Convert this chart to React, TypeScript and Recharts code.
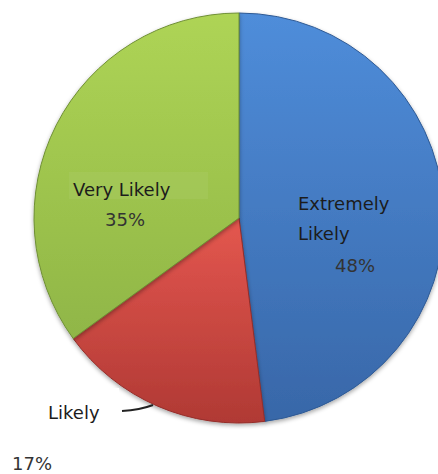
import { PieChart, Pie, Cell } from 'recharts';

const categories = ['Extremely Likely', 'Likely', 'Very Likely'];
const shares = [48, 17, 35];
const labelLines = [['Extremely', 'Likely'], ['Likely'], ['Very Likely']];

// top / bottom shades for each slice (bevelled Office look)
const sliceColors = [
  { top: '#4f8dda', bottom: '#3867a8', edge: '#2f5a94' },
  { top: '#e4574f', bottom: '#b03934', edge: '#942e2a' },
  { top: '#aed455', bottom: '#90b647', edge: '#6f8f35' },
];

// label offsets from pie centre, per slice
const labelLayout = [
  { dx: 59, dy: -8, pctDx: 96, pctDy: 54 },
  { dx: -191, dy: 201, pctDx: -227, pctDy: 252 },
  { dx: -166, dy: -22, pctDx: -134, pctDy: 8 },
];

const chartData = categories.map((name, i) => ({ name, value: shares[i] }));

const fontFamily = '"DejaVu Sans", Verdana, sans-serif';

function renderLabel(props: any) {
  const { cx, cy, index, value } = props;
  const l = labelLayout[index];
  const lines = labelLines[index];
  const x = cx + l.dx;
  const y = cy + l.dy;
  return (
    <g key={`lbl-${index}`}>
      {index === 1 && (
        <>
          <rect x={x - 10} y={y - 31} width={81} height={44} fill="#fff" />
          <path d={`M ${x + 74} ${y - 8} Q ${x + 92} ${y - 9} ${x + 105} ${y - 14}`} stroke="#222" strokeWidth={2} fill="none" />
        </>
      )}
      {index === 2 && <rect x={x - 4} y={y - 24} width={139} height={27} fill="#fff" fillOpacity={0.05} />}
      {lines.map((t, j) => (
        <text key={j} x={x} y={y + j * 30} fontSize={18} fill="#1c1c1c" fontFamily={fontFamily}>
          {t}
        </text>
      ))}
      <text x={cx + l.pctDx} y={cy + l.pctDy} fontSize={18} fill="#333" fontFamily={fontFamily}>
        {value}%
      </text>
    </g>
  );
}

export default function App() {
  return (
    <div style={{ position: 'absolute', left: 0, top: 0, width: 438, height: 474, background: '#fff', overflow: 'hidden' }}>
      <PieChart width={438} height={474} margin={{ top: 0, right: 0, bottom: 0, left: 0 }}>
        <defs>
          {sliceColors.map((c, i) => (
            <linearGradient key={i} id={`slice-${i}`} x1="0" y1="0" x2="0" y2="1">
              <stop offset="0%" stopColor={c.top} />
              <stop offset="100%" stopColor={c.bottom} />
            </linearGradient>
          ))}
          <filter id="pie-shadow" x="-10%" y="-10%" width="120%" height="120%">
            <feDropShadow dx="0" dy="2" stdDeviation="2" floodColor="#000" floodOpacity="0.35" />
          </filter>
        </defs>
        <Pie
          data={chartData}
          dataKey="value"
          nameKey="name"
          cx={239}
          cy={218}
          outerRadius={205}
          startAngle={90}
          endAngle={-270}
          isAnimationActive={false}
          label={renderLabel}
          labelLine={false}
          stroke="none"
        >
          {chartData.map((entry, i) => (
            <Cell key={`cell-${i}`} fill={`url(#slice-${i})`} stroke={sliceColors[i].edge} strokeWidth={1} filter="url(#pie-shadow)" />
          ))}
        </Pie>
      </PieChart>
    </div>
  );
}
